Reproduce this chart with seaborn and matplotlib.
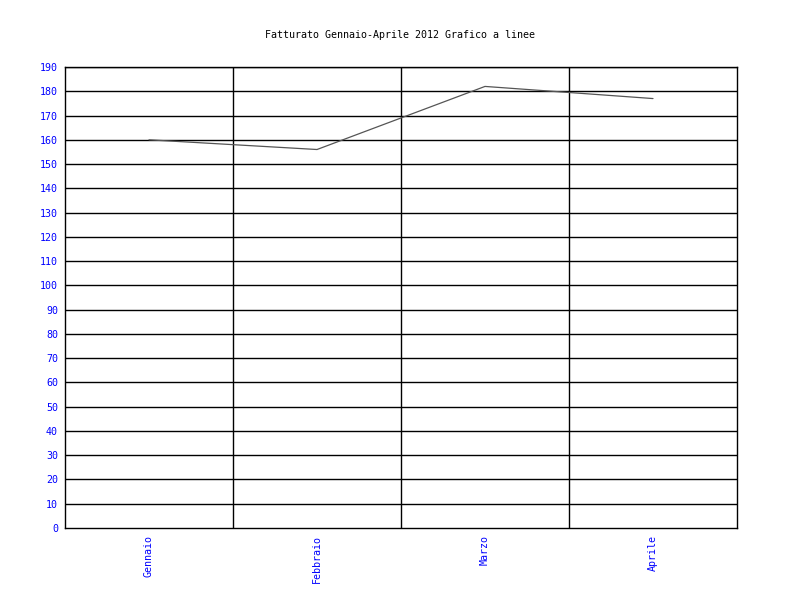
import matplotlib
matplotlib.use('Agg')
import matplotlib.pyplot as plt
import seaborn as sns
import pandas as pd

mesi = ['Gennaio', 'Febbraio', 'Marzo', 'Aprile']
fatturato = [160, 156, 182, 177]
y_ticks = list(range(0, 200, 10))

sns.set_style('white')
plt.rcParams['font.family'] = ['DejaVu Sans Mono']

df = pd.DataFrame({'mese': mesi, 'fatturato': fatturato})

fig = plt.figure(figsize=(8, 6), dpi=100)
ax = fig.add_axes([0.08125, 0.12, 0.84, 0.7683])
sns.lineplot(x='mese', y='fatturato', data=df, sort=False, color='#555555', linewidth=0.9, ax=ax)

ax.set_xlim(-0.5, len(mesi) - 0.5)
ax.set_ylim(0, 190)
ax.set_yticks(y_ticks)
ax.set_yticklabels([str(v) for v in y_ticks], color='#0000ff', fontsize=7.2)
ax.set_xticks(range(len(mesi)))
ax.set_xticklabels(mesi, rotation=90, color='#0000ff', fontsize=7.2)
ax.tick_params(length=0, pad=5)
for v in y_ticks[1:]:
    ax.axhline(v, color='black', linewidth=1, zorder=0)
for i in range(len(mesi) - 1):
    ax.axvline(i + 0.5, color='black', linewidth=1, zorder=0)
for s in ax.spines.values():
    s.set_color('black')
    s.set_linewidth(1)
ax.set_xlabel('')
ax.set_ylabel('')
fig.suptitle('Fatturato Gennaio-Aprile 2012 Grafico a linee', y=0.95, fontsize=7.2, color='black')

plt.savefig('out.png', dpi=100)
